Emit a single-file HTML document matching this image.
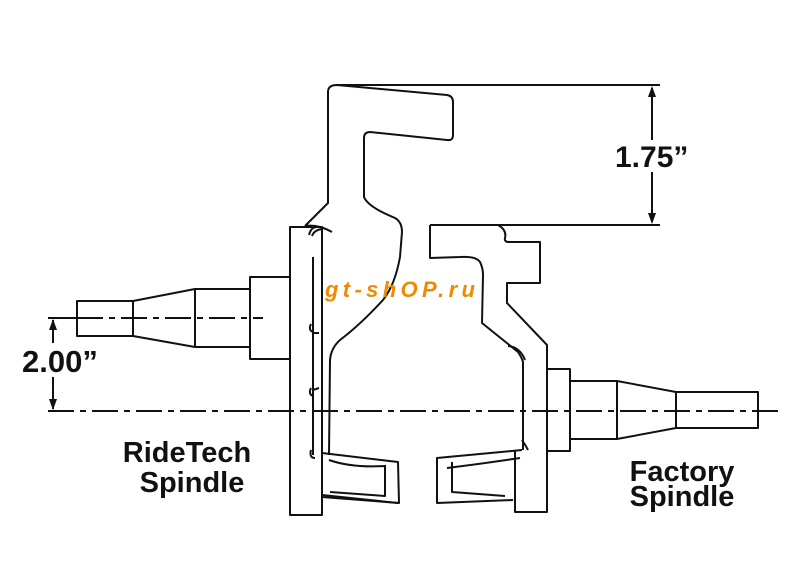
<!DOCTYPE html>
<html><head><style>
html,body{margin:0;padding:0;background:#fff;}
svg{display:block;}
text{font-family:"Liberation Sans",Arial,sans-serif;font-weight:bold;fill:#111;}
</style></head><body>
<svg width="800" height="579" viewBox="0 0 800 579" xmlns="http://www.w3.org/2000/svg">
<g fill="none" stroke="#111" stroke-width="2" stroke-linejoin="round">
<!-- left spindle stub -->
<rect x="77" y="301" width="56" height="35"/>
<path d="M133 301 L195 289 L195 347 L133 336"/>
<rect x="195" y="289" width="55" height="58"/>
<rect x="250" y="277" width="40" height="82"/>
<!-- left plate -->
<rect x="290" y="227" width="32" height="288"/>
<path d="M313 257 L313 455"/>
<path d="M309 235 q2 -8 8 -8 M312 236 q2 -6 10 -7"/>
<path d="M311 324 q-3 6 2 8 M313 333 l6 0"/>
<path d="M311 388 q-3 6 2 8 M313 390 l6 -2"/>
<path d="M311 450 q-2 8 4 8"/>
<!-- upper arm -->
<path d="M305 226 L328 203 L328 92 Q328 85 337 85 L447 95 Q453 96 453 102 L453 135 Q453 141 447 140 L370 132 Q364 132 364 138 L364 197 Q368 207 395 218 Q402 222 402 232 L400 257 Q395 285 383 300 Q360 325 340 340 Q331 348 330 360 L329 455"/>
<path d="M305 226 Q318 224 332 232"/>
<!-- right upper arm -->
<path d="M430 225 L498 225 Q507 230 505 238 Q504 242 509 242 L540 242 L540 283 L507 283 L507 303 L547 345 L547 512 L515 512 L515 450"/>
<path d="M430 225 L430 258 L460 257 Q476 256 480 262 Q483 268 483 275 L482 323 L518 352 Q522 358 523 362 L523 450"/>
<path d="M508 346 Q520 347 525 360"/>
<path d="M522 440 q4 6 6 10"/>
<!-- right spindle stub -->
<rect x="547" y="369" width="23" height="82"/>
<rect x="570" y="381" width="47" height="58"/>
<path d="M617 381 L676 392 L676 428 L617 439"/>
<rect x="676" y="392" width="82" height="36"/>
<!-- left caliper -->
<path d="M322 453 L398 462 L399 503 L322 497"/>
<path d="M385 465 L385 496 L330 492"/>
<path d="M322 495 L398 503"/>
<path d="M329 460 Q352 468 385 466"/>
<!-- right caliper -->
<path d="M522 450 L437 458 L437 503 L513 500"/>
<path d="M452 462 L452 492 L505 496"/>
<path d="M447 468 Q480 464 520 458"/>
<!-- dimension lines -->
<path d="M337 85 L660 85 M498 225 L660 225"/>
<path d="M652 88 L652 140 M652 172 L652 222"/>
<path d="M48 318 L77 318 M53 320 L53 343 M53 377 L53 409"/>
</g>
<g fill="#111">
<polygon points="652,86 648,97 656,97"/>
<polygon points="652,224 648,213 656,213"/>
<polygon points="53,319 49,330 57,330"/>
<polygon points="53,410 49,399 57,399"/>
</g>
<!-- centerlines -->
<g stroke="#111" stroke-width="2" fill="none" stroke-dasharray="26 6 6 6">
<path d="M77 318 L263 318"/>
<path d="M48 411 L780 411"/>
</g>
<text x="615" y="167" font-size="30">1.75”</text>
<text x="22" y="372" font-size="31">2.00”</text>
<text x="187" y="462" font-size="29" text-anchor="middle">RideTech</text>
<text x="192" y="492" font-size="29" text-anchor="middle">Spindle</text>
<text x="682" y="481" font-size="29" text-anchor="middle">Factory</text>
<text x="682" y="506" font-size="29" text-anchor="middle">Spindle</text>
<text x="400" y="297" font-size="22" font-style="italic" text-anchor="middle" textLength="150" style="fill:#f08a00">gt-shOP.ru</text>
</svg>
</body></html>
